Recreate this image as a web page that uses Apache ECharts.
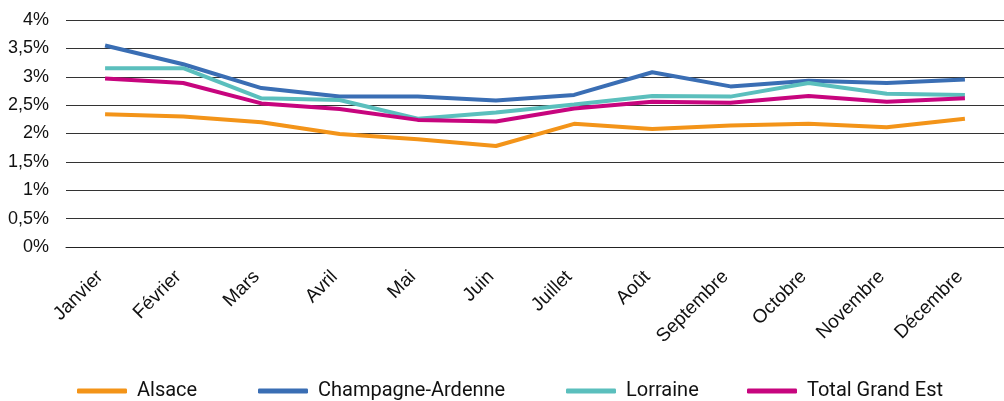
<!DOCTYPE html>
<html>
<head>
<meta charset="utf-8">
<script src="https://cdn.jsdelivr.net/npm/echarts@6/dist/echarts.min.js"></script>
<style>
html, body { margin: 0; padding: 0; background: #fff; }
#chart { width: 1004px; height: 401px; }
</style>
</head>
<body>
<div id="chart"></div>
<script>
var months = ['Janvier', 'Février', 'Mars', 'Avril', 'Mai', 'Juin', 'Juillet', 'Août', 'Septembre', 'Octobre', 'Novembre', 'Décembre'];

var alsace = [2.34, 2.30, 2.20, 1.99, 1.90, 1.78, 2.17, 2.08, 2.14, 2.17, 2.11, 2.26];
var champagne = [3.55, 3.22, 2.80, 2.65, 2.65, 2.58, 2.68, 3.08, 2.83, 2.93, 2.89, 2.95];
var lorraine = [3.15, 3.15, 2.62, 2.59, 2.26, 2.37, 2.51, 2.66, 2.65, 2.89, 2.70, 2.68];
var totalGE = [2.97, 2.89, 2.53, 2.43, 2.24, 2.21, 2.44, 2.56, 2.54, 2.66, 2.56, 2.62];

var seriesNames = ['Alsace', 'Champagne-Ardenne', 'Lorraine', 'Total Grand Est'];
var colors = ['#F39419', '#3A6EB4', '#5BBFBD', '#C7057E'];
// where each legend entry starts (legend box has 5px padding)
var legendLeft = [72, 253, 561, 742];

function mkLine(name, data, color) {
	return {
		name: name,
		type: 'line',
		data: data,
		symbol: 'none',
		lineStyle: { width: 4, color: color },
		itemStyle: { color: color }
	};
}

function mkLegend(name, left) {
	return {
		data: [name],
		left: left,
		top: 376,
		itemWidth: 50,
		itemHeight: 5,
		icon: 'roundRect',
		textStyle: { fontFamily: 'Roboto', fontSize: 20, color: '#111', padding: [0, 0, 0, 5] }
	};
}

var option = {
	animation: false,
	color: colors,
	grid: { left: 66, top: 20, width: 948, height: 227 },
	legend: seriesNames.map(function (n, i) { return mkLegend(n, legendLeft[i]); }),
	xAxis: {
		type: 'category',
		data: months,
		boundaryGap: true,
		axisLine: { show: true, lineStyle: { color: '#222', width: 1 } },
		axisTick: { show: false },
		axisLabel: {
			rotate: 45,
			interval: 0,
			margin: 22,
			padding: [0, 7, 0, 0],
			fontFamily: 'Liberation Sans',
			fontSize: 19,
			color: '#111'
		}
	},
	yAxis: {
		type: 'value',
		min: 0,
		max: 4,
		interval: 0.5,
		axisLine: { show: false },
		axisTick: { show: false },
		splitLine: { lineStyle: { color: '#333', width: 1 } },
		axisLabel: {
			margin: 17,
			fontFamily: 'Liberation Sans',
			fontSize: 18,
			color: '#111',
			formatter: function (v) {
				return String(v).replace('.', ',') + '%';
			}
		}
	},
	series: [
		mkLine(seriesNames[0], alsace, colors[0]),
		mkLine(seriesNames[1], champagne, colors[1]),
		mkLine(seriesNames[2], lorraine, colors[2]),
		mkLine(seriesNames[3], totalGE, colors[3])
	]
};

var myChart = echarts.init(document.getElementById('chart'));
myChart.setOption(option);
</script>
</body>
</html>
